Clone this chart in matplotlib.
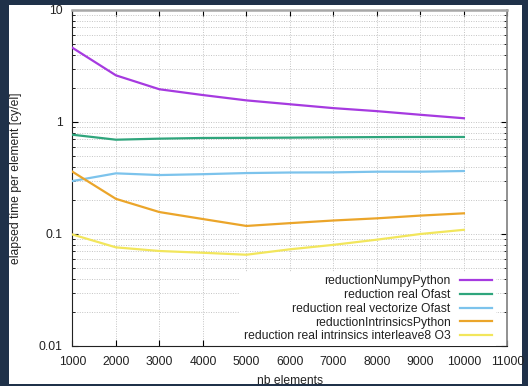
import matplotlib
matplotlib.use("Agg")
import matplotlib.pyplot as plt
from matplotlib.patches import Rectangle
from matplotlib.ticker import LogLocator, FixedLocator, NullFormatter

plt.rcParams['font.family'] = ['Liberation Sans', 'DejaVu Sans']

nb_elements = [1000, 2000, 3000, 4000, 5000, 6000, 7000, 8000, 9000, 10000]
numpy_python = [4.6, 2.61, 1.96, 1.74, 1.56, 1.44, 1.33, 1.25, 1.16, 1.08]
real_ofast = [0.77, 0.695, 0.71, 0.72, 0.722, 0.725, 0.73, 0.733, 0.735, 0.735]
real_vectorize_ofast = [0.297, 0.348, 0.336, 0.342, 0.35, 0.354, 0.355, 0.36, 0.36, 0.365]
intrinsics_python = [0.36, 0.206, 0.157, 0.136, 0.118, 0.125, 0.132, 0.138, 0.146, 0.153]
intrinsics_interleave8 = [0.099, 0.076, 0.0705, 0.068, 0.0653, 0.073, 0.080, 0.089, 0.10, 0.109]

labels = ["reductionNumpyPython", "reduction real Ofast", "reduction real vectorize Ofast",
          "reductionIntrinsicsPython", "reduction real intrinsics interleave8 O3"]
series = [numpy_python, real_ofast, real_vectorize_ofast, intrinsics_python, intrinsics_interleave8]
colors = ['#a63ae0', '#2fa57c', '#7cc3ec', '#eba52a', '#f2e65c']

x_ticks = [1000, 2000, 3000, 4000, 5000, 6000, 7000, 8000, 9000, 10000, 11000]
y_ticks = [0.01, 0.1, 1, 10]
y_ticklabels = ["0.01", "0.1", "1", "10"]

W, H = 528, 386
fig = plt.figure(figsize=(W / 100, H / 100), dpi=100)
fig.patch.set_facecolor('#1f3149')
fig.patches.append(Rectangle((9 / W, 1 - 384 / H), (522 - 9) / W, (384 - 5) / H,
                             transform=fig.transFigure, facecolor='white', edgecolor='none', zorder=-5))

L, R, T, B = 72.4, 507.4, 10, 346
ax = fig.add_axes([L / W, 1 - B / H, (R - L) / W, (B - T) / H])
ax.set_facecolor('white')

for ys, c, lab in zip(series, colors, labels):
    ax.plot(nb_elements, ys, color=c, lw=1.6, label=lab, zorder=3)

ax.set_yscale('log')
ax.set_xlim(1000, 11000)
ax.set_ylim(0.01, 10)
ax.xaxis.set_major_locator(FixedLocator(x_ticks))
ax.set_xticklabels([str(v) for v in x_ticks])
ax.yaxis.set_major_locator(FixedLocator(y_ticks))
ax.set_yticklabels(y_ticklabels)
ax.yaxis.set_minor_locator(LogLocator(base=10, subs=range(2, 10)))
ax.yaxis.set_minor_formatter(NullFormatter())

ax.tick_params(axis='both', which='major', direction='in', length=4, width=0.8,
               top=True, right=True, labelsize=8.7, pad=7, colors='black', labelcolor='#222222')
ax.tick_params(axis='y', which='minor', direction='in', length=2, width=0.6,
               left=True, right=True)
ax.tick_params(axis='x', which='minor', bottom=False, top=False)

ax.grid(True, which='major', axis='x', color='#c4c4c4', linestyle=(0, (1, 1.5)), lw=0.7)
ax.grid(True, which='both', axis='y', color='#c4c4c4', linestyle=(0, (1, 1.5)), lw=0.7)
ax.set_axisbelow(True)

ax.spines['left'].set_color('#222222')
ax.spines['bottom'].set_color('#222222')
ax.spines['top'].set_color('#a8a8a8')
ax.spines['right'].set_color('#888888')
ax.spines['top'].set_linewidth(1.8)
ax.spines['right'].set_linewidth(1.3)

ax.set_ylabel("elapsed time per element [cy/el]", fontsize=8.7, color='#222222', labelpad=12)
ax.set_xlabel("nb elements", fontsize=8.7, color='#222222', labelpad=5)

leg = ax.legend(loc='lower right', bbox_to_anchor=((496 - L) / (R - L), 0.0),
                markerfirst=False, frameon=True, fontsize=8.7, handlelength=2.7,
                handletextpad=0.75, labelspacing=0.15, borderpad=0.3, borderaxespad=0.0,
                fancybox=False)
leg.get_frame().set_facecolor('white')
leg.get_frame().set_edgecolor('none')
leg.get_frame().set_alpha(1.0)
leg.set_zorder(5)
for t in leg.get_texts():
    t.set_color('#222222')

fig.patches.append(Rectangle((0, 0), 1, 2 / H, transform=fig.transFigure,
                             facecolor='#1f3149', edgecolor='none', zorder=20))

fig.savefig("out.png", dpi=100, facecolor=fig.get_facecolor())
